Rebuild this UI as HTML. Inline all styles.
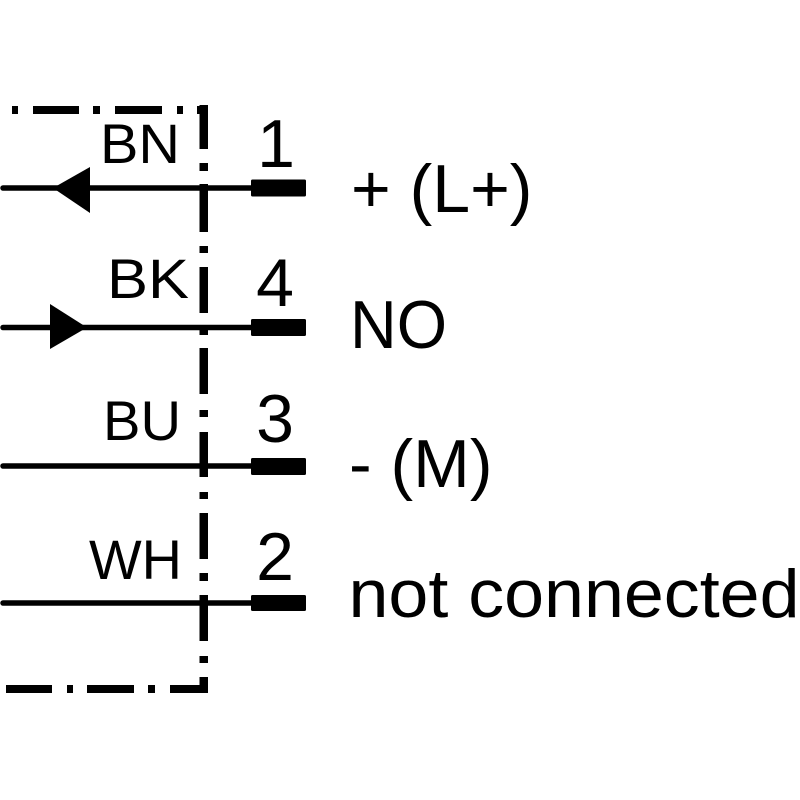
<!DOCTYPE html>
<html>
<head>
<meta charset="utf-8">
<style>
html,body{margin:0;padding:0;background:#fff;}
svg{display:block;}
text{font-family:"Liberation Sans", sans-serif; fill:#000;}
</style>
</head>
<body>
<svg width="800" height="800" viewBox="0 0 800 800" xmlns="http://www.w3.org/2000/svg">
  <rect x="0" y="0" width="800" height="800" fill="#fff"/>

  <!-- top dash-dot line -->
  <g fill="#000">
    <rect x="12" y="106" width="6" height="8"/>
    <rect x="33" y="106" width="46" height="8"/>
    <rect x="93" y="106" width="7" height="8"/>
    <rect x="115" y="106" width="47" height="8"/>
    <rect x="177" y="106" width="6" height="8"/>
    <rect x="197" y="106" width="11" height="8"/>

    <!-- vertical dash-dot line -->
    <rect x="199.5" y="105" width="8.5" height="44"/>
    <rect x="199.5" y="163" width="8.5" height="8"/>
    <rect x="199.5" y="184" width="8.5" height="48"/>
    <rect x="199.5" y="246" width="8.5" height="7"/>
    <rect x="199.5" y="267" width="8.5" height="46"/>
    <rect x="199.5" y="327" width="8.5" height="8"/>
    <rect x="199.5" y="348" width="8.5" height="46"/>
    <rect x="199.5" y="410" width="8.5" height="7"/>
    <rect x="199.5" y="432" width="8.5" height="45"/>
    <rect x="199.5" y="492" width="8.5" height="7"/>
    <rect x="199.5" y="513" width="8.5" height="46"/>
    <rect x="199.5" y="573" width="8.5" height="8"/>
    <rect x="199.5" y="595" width="8.5" height="46"/>
    <rect x="199.5" y="656" width="8.5" height="7"/>
    <rect x="199.5" y="677" width="8.5" height="16"/>

    <!-- bottom dash-dot line -->
    <rect x="6" y="685" width="46" height="8"/>
    <rect x="67" y="685" width="6" height="8"/>
    <rect x="87" y="685" width="47" height="8"/>
    <rect x="148" y="685" width="7" height="8"/>
    <rect x="170" y="685" width="38" height="8"/>
  </g>

  <!-- wires -->
  <g stroke="#000" stroke-width="5.5" stroke-linecap="round">
    <line x1="3" y1="188" x2="255" y2="188"/>
    <line x1="3" y1="327.5" x2="255" y2="327.5"/>
    <line x1="3" y1="466" x2="255" y2="466"/>
    <line x1="3" y1="603" x2="255" y2="603"/>
  </g>

  <!-- terminal blocks -->
  <g fill="#000">
    <rect x="251" y="179.5" width="55" height="17" rx="1.5"/>
    <rect x="251" y="319" width="55" height="17" rx="1.5"/>
    <rect x="251" y="458" width="55" height="17" rx="1.5"/>
    <rect x="251" y="595" width="55" height="16" rx="1.5"/>
  </g>

  <!-- arrows -->
  <polygon points="53,188 90,167 90,213" fill="#000"/>
  <polygon points="50,304 50,349 87,327.5" fill="#000"/>

  <!-- wire colour labels -->
  <text x="100" y="163" font-size="56" textLength="80" lengthAdjust="spacingAndGlyphs">BN</text>
  <text x="107" y="298" font-size="56" textLength="82" lengthAdjust="spacingAndGlyphs">BK</text>
  <text x="103" y="440" font-size="56" textLength="78" lengthAdjust="spacingAndGlyphs">BU</text>
  <text x="89" y="579" font-size="56" textLength="93" lengthAdjust="spacingAndGlyphs">WH</text>

  <!-- pin numbers -->
  <text x="276" y="167" font-size="68" text-anchor="middle">1</text>
  <text x="275" y="306" font-size="68" text-anchor="middle">4</text>
  <text x="275" y="442" font-size="68" text-anchor="middle">3</text>
  <text x="275" y="580" font-size="68" text-anchor="middle">2</text>

  <!-- function labels -->
  <text x="351" y="212" font-size="68">+ (L+)</text>
  <text x="350" y="348" font-size="68" textLength="97" lengthAdjust="spacingAndGlyphs">NO</text>
  <text x="349" y="487" font-size="68">- (M)</text>
  <text x="348.5" y="617" font-size="68" textLength="451" lengthAdjust="spacingAndGlyphs">not connected</text>
</svg>
</body>
</html>
